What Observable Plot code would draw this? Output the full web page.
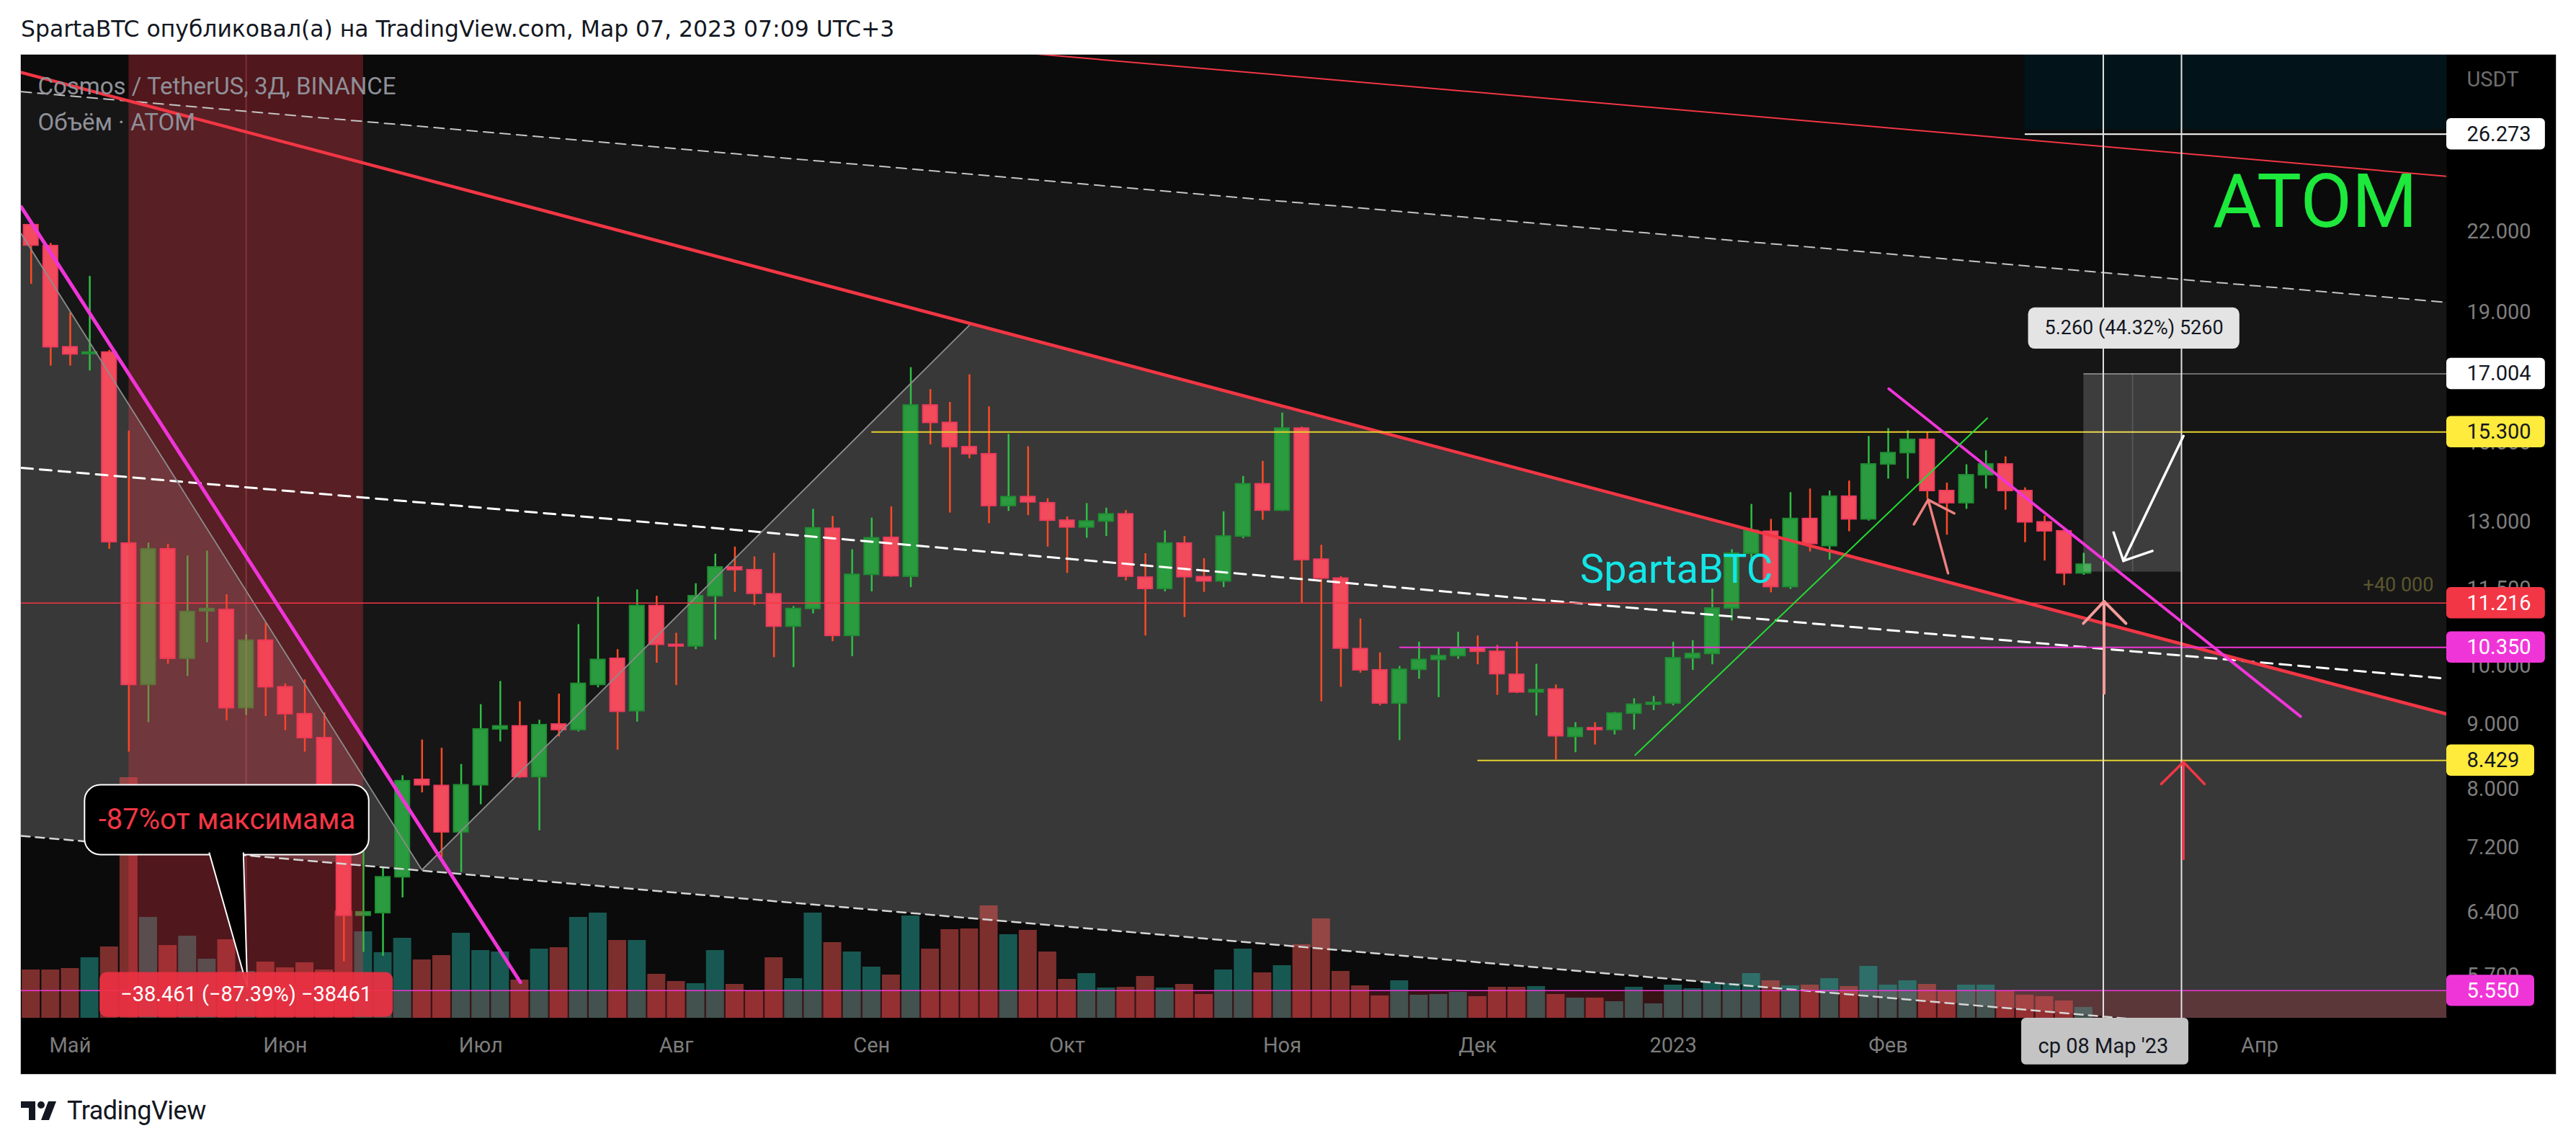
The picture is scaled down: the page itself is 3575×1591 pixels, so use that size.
<!DOCTYPE html>
<html><head><meta charset="utf-8">
<script src="https://cdn.jsdelivr.net/npm/d3@7"></script>
<script src="https://cdn.jsdelivr.net/npm/@observablehq/plot@0.6"></script>
<style>
html,body{margin:0;padding:0;background:#fff;}
#page{position:relative;width:3575px;height:1591px;background:#fff;overflow:hidden;}
#header{position:absolute;left:29px;top:24px;font-family:"DejaVu Sans";font-size:27px;color:#131722;white-space:nowrap;line-height:32px;}
#frame{position:absolute;left:28px;top:75px;width:3518px;height:1415px;border:1px solid #c9cbd1;}
.layer{position:absolute;left:29px;top:76px;width:3518px;height:1415px;}
#logo{position:absolute;left:29px;top:1524px;height:36px;display:flex;align-items:center;}
#logo span{font-family:Roboto;font-size:36px;color:#131722;margin-left:8px;letter-spacing:-0.5px;}
</style></head><body>
<div id="page">
  <div id="header">SpartaBTC опубликовал(а) на TradingView.com, Мар 07, 2023 07:09 UTC+3</div>
  <div id="frame"></div>
  <div class="layer" id="l1"></div>
  <div class="layer" id="l2"></div>
  <div class="layer" id="l3"></div>
  <div id="logo"><svg width="56" height="30" viewBox="0 0 56 30"><path d="M0 2h20v26h-9V11H0z" fill="#131722"/><circle cx="28" cy="7" r="5" fill="#131722"/><path d="M38 2h11l-10 26H28z" fill="#131722"/></svg><span>TradingView</span></div>
</div>
<script>
// ---------- DATA (3-day candles ATOM/USDT, Binance) ----------
const open = [22.28,21.45,17.85,17.63,17.68,12.50,9.67,12.37,10.14,11.05,
11.08,9.27,10.48,9.63,9.17,8.78,8.00,6.36,6.39,6.82,
8.14,8.05,7.40,8.06,8.92,8.97,8.18,9.00,8.91,9.67,
10.14,9.22,11.16,10.40,10.37,11.36,11.97,11.91,11.40,10.75,
11.10,12.84,10.57,11.81,12.63,11.77,16.06,15.56,14.89,14.70,
13.38,13.60,13.45,13.03,12.87,13.01,13.18,11.75,11.51,12.50,
11.76,11.67,12.66,13.92,13.27,15.40,12.14,11.73,10.32,9.93,
9.35,9.94,10.12,10.19,10.34,10.27,9.85,9.54,9.59,8.80,
8.94,8.91,9.18,9.33,9.35,10.15,10.23,11.11,12.27,12.77,
11.55,13.07,12.44,13.61,13.06,14.43,14.73,15.09,13.75,13.45,
14.15,14.43,13.75,12.99,12.78,11.84];
const high = [22.35,21.55,19.00,20.30,17.75,15.33,12.51,12.48,12.22,12.33,
11.39,10.59,10.82,9.69,9.76,9.19,8.05,7.20,6.95,8.20,
8.75,8.62,8.37,9.33,9.73,9.38,9.07,9.51,10.79,11.34,
10.31,11.49,11.36,10.62,11.62,12.26,12.42,12.20,12.28,11.15,
13.30,13.13,12.36,13.09,13.36,17.20,16.53,16.15,16.98,16.02,
15.24,14.90,13.56,13.12,13.44,13.33,13.27,12.27,12.79,12.66,
12.16,13.24,14.12,14.51,15.84,15.44,12.46,11.77,10.90,10.25,
10.00,10.45,10.34,10.64,10.57,10.39,10.45,10.04,9.67,9.03,
9.03,9.20,9.43,9.47,10.45,10.48,11.51,12.36,13.42,13.06,
13.71,13.80,13.75,14.00,15.18,15.40,15.34,15.30,13.95,14.42,
14.79,14.63,13.83,13.14,12.83,12.28];
const low = [20.01,17.25,17.25,17.10,12.37,8.56,9.03,10.04,9.82,10.44,
9.06,9.15,9.13,8.90,8.56,7.90,5.85,5.95,5.91,6.57,
7.95,7.06,6.88,7.78,8.72,8.16,7.42,8.80,8.88,9.62,
8.59,9.04,10.06,9.66,10.31,10.49,11.44,11.17,10.16,9.98,
11.00,10.46,10.18,11.45,11.76,11.54,14.95,13.21,14.58,12.96,
13.25,13.15,12.42,11.84,12.62,12.66,11.68,10.57,11.45,10.93,
11.44,11.54,12.61,13.04,13.25,11.22,9.38,9.63,9.88,9.31,
8.74,9.77,9.45,10.13,10.03,9.49,9.52,9.14,8.44,8.55,
8.67,8.83,8.91,9.23,9.31,9.93,10.03,10.86,12.14,11.43,
11.50,12.31,12.13,12.77,13.02,14.05,14.05,13.55,12.69,13.30,
13.80,13.28,12.52,12.11,11.58,11.80];
const close = [21.47,17.85,17.62,17.68,12.53,9.67,12.37,10.14,11.04,11.10,
9.27,10.48,9.63,9.17,8.78,8.00,6.36,6.40,6.82,8.12,
8.06,7.40,8.06,8.92,8.97,8.18,8.99,8.91,9.69,10.12,
9.21,11.16,10.40,10.37,11.36,11.97,11.91,11.41,10.75,11.10,
12.85,10.57,11.81,12.62,11.78,16.06,15.56,14.89,14.70,13.38,
13.60,13.47,13.03,12.87,13.01,13.18,11.77,11.51,12.50,11.76,
11.67,12.66,13.92,13.27,15.40,12.13,11.73,10.33,9.93,9.35,
9.94,10.12,10.19,10.34,10.27,9.86,9.54,9.58,8.81,8.94,
8.91,9.18,9.33,9.36,10.15,10.23,11.11,12.27,12.79,11.55,
13.07,12.49,13.61,13.06,14.43,14.73,15.09,13.75,13.45,14.15,
14.43,13.75,12.99,12.78,11.84,12.03];
// volume, millions ATOM
const volume = [6.7,6.7,6.9,8.4,9.9,33.4,14.0,10.1,11.4,8.2,
10.9,6.5,7.8,7.0,7.7,6.7,14.9,12.0,9.1,11.1,
8.1,8.7,11.8,9.4,9.2,5.3,9.6,9.8,14.0,14.6,
10.8,10.8,6.1,5.1,4.8,9.4,4.7,3.8,8.4,5.5,
14.6,10.5,9.2,7.1,6.0,14.2,9.6,12.3,12.4,15.6,
11.6,12.2,9.2,5.4,6.2,4.2,4.3,5.8,4.2,4.7,
3.3,6.7,9.6,6.3,7.3,10.2,13.8,6.5,4.5,3.1,
5.2,3.2,3.3,3.6,3.0,4.3,4.3,4.4,3.3,2.8,
2.8,2.3,4.3,2.0,4.6,4.1,4.9,4.8,6.2,5.2,
4.5,4.6,5.5,4.4,7.2,4.6,5.2,4.7,3.8,4.6,
4.6,3.8,3.2,3.0,2.4,1.5];

// time axis (bar index of first bar of each month)
const xTickBars   = [2,13,23,33,43,53,64,74,84,95,104,114];
const xTickLabels = ["Май","Июн","Июл","Авг","Сен","Окт","Ноя","Дек","2023","Фев","Мар","Апр"];
const crosshairBar = 106, crosshairLabel = "ср 08 Мар '23";
// price axis
const yTicks = [22,19,15,13,11.5,10,9,8,7.2,6.4,5.7];
const priceLabelValues = [26.273,17.004,15.3,11.216,10.35,8.429,5.55];

// drawings: anchors as [bar index, price]
const trendA   = [[-0.505,29.39],[123.565,9.17]];
const trendB   = [[46.34,30.87],[123.565,24.34]];
const chanTop  = [[-0.505,28.38],[123.565,19.36]];
const chanMid  = [[-0.505,14.34],[123.565,9.779]];
const chanBot  = [[-0.505,7.351],[123.565,5.017]];
const vPath    = [[-0.505,21.93],[19.99,6.91],[48.0,18.58]];
const shadeZone = [[-0.505,7.351,21.93],[19.99,6.91,6.91],[48.0,6.33,18.58],[107.16,5.28,10.69],[123.565,5.28,9.17]];
const magentaLeft  = [[-0.505,23.02],[25.03,5.635]];
const magentaRight = [[95.03,16.55],[116.09,9.131]];
const greenLine    = [[82.05,8.511],[100.07,15.69]];
const levels = [ // price, starting bar
  {p:11.216, from:-0.505},{p:10.35, from:70},{p:15.3, from:43},{p:8.429, from:74},{p:5.55, from:-0.505},
  {p:26.273, from:102},{p:17.004, from:105}];
const rangeDrop = {from:5, to:17, top:44.011, bottom:5.55, text:"−38.461 (−87.39%) −38461"};
const rangeUp   = {from:105, to:110, bottom:11.868, top:17.004, text:"5.260 (44.32%) 5260"};
const vLines = [106,110];
const arrowWhite = {shaft:[[110.1,15.19],[107.03,12.11]], head:[[106.53,12.75],[107.03,12.11],[108.51,12.33]]};
const arrowPink  = {shaft:[[106.04,9.523],[106.04,11.25]], head:[[104.98,10.81],[106.04,11.25],[107.16,10.81]]};
const arrowRed   = {shaft:[[110.1,7.05],[110.1,8.405]], head:[[108.96,8.076],[110.1,8.405],[111.18,8.076]]};
const arrowSalmon= {shaft:[[98.06,11.84],[97.04,13.53]], head:[[96.31,12.94],[97.04,13.53],[98.38,13.20]]};
const calloutText = "-87%от максимама";

// ---------- LAYOUT ----------
const W = 3518, H = 1415, MR = 152, MB = 78;
const xMin = -0.505, xMax = 123.565;
const xDomain = [xMin, xMax], yDomain = [5.28, 30.33];
const base = {width: W, height: H, marginLeft: 0, marginRight: MR, marginTop: 0, marginBottom: MB,
  color: {type: "identity"},
  style: {background: "transparent", color: "#7d7d7d", fontFamily: "Roboto", overflow: "visible"}};
const k = 1.0288; // half label height factor on log scale

const candles = open.map((o, i) => ({i, o, h: high[i], l: low[i], c: close[i], v: volume[i], up: close[i] >= o}));
const UP = "#2b9b3f", UPB = "#1f8f33", UPW = "#2fbf45", DN = "#f24b5b", DNB = "#ee3b5e", DNW = "#ff4a24";
const MAG = "#f035d8", YEL = "#e6d02e", RED = "#f23645";
const lvlStyle = {11.216:[RED,1.5], 10.35:[MAG,2], 15.3:[YEL,2], 8.429:[YEL,2], 5.55:[MAG,1.5], 26.273:["#ffffff",2], 17.004:["#8a8a8a",1.5]};
const labStyle = {26.273:["#ffffff","#131722",128.61], 17.004:["#ffffff","#131722",128.61], 15.3:["#ffeb3b","#131722",128.61],
  11.216:[RED,"#ffffff",128.61], 10.35:[MAG,"#ffffff",128.61], 8.429:["#ffeb3b","#131722",128.06], 5.55:[MAG,"#ffffff",128.06]};

// ---------- LAYER 1: backgrounds ----------
const p1 = Plot.plot({...base,
  style: {...base.style, background: "#000"},
  x: {type: "linear", domain: xDomain, axis: null},
  y: {type: "log", domain: yDomain, axis: null},
  marks: [
    Plot.frame({fill: "#0b0b0b", stroke: null}),
    Plot.areaY([[xMin, chanBot[0][1], chanTop[0][1]], [xMax, chanBot[1][1], chanTop[1][1]]],
      {x: d => d[0], y1: d => d[1], y2: d => d[2], fill: "#161616", clip: true}),
    Plot.areaY(shadeZone, {x: d => d[0], y1: d => d[1], y2: d => d[2], fill: "#383838", clip: true}),
    Plot.rect([0], {x1: 102, x2: xMax, y1: 26.48, y2: 40, fill: "#02141a", clip: true})
  ]});
document.getElementById("l1").appendChild(p1);

// ---------- LAYER 2: volume ----------
const p2 = Plot.plot({...base,
  x: {type: "linear", domain: xDomain, axis: null},
  y: {type: "linear", domain: [0, 133.7], axis: null},
  marks: [
    Plot.rect(candles, {x1: d => d.i - 0.46, x2: d => d.i + 0.46, y1: 0, y2: "v",
      fill: d => d.up ? "rgba(38,166,154,0.5)" : "rgba(239,83,80,0.5)"})
  ]});
document.getElementById("l2").appendChild(p2);

// ---------- LAYER 3: candles, drawings, axes ----------
const seg = (pts, o) => Plot.line(pts, {x: d => d[0], y: d => d[1], clip: true, ...o});
const arrow = (a, col, w) => [seg(a.shaft, {stroke: col, strokeWidth: w, strokeLinecap: "round"}),
  seg(a.head, {stroke: col, strokeWidth: w, strokeLinecap: "round", strokeLinejoin: "round"})];

const p3 = Plot.plot({...base,
  x: {type: "linear", domain: xDomain},
  y: {type: "log", domain: yDomain},
  marks: [
    Plot.axisX({ticks: xTickBars, tickFormat: d => xTickLabels[xTickBars.indexOf(d)], tickSize: 0, tickPadding: 27,
      fontSize: 29, color: "#7d7d7d", label: null}),
    // candles
    Plot.ruleX(candles, {x: "i", y1: "l", y2: "h", stroke: d => d.up ? UPW : DNW, strokeWidth: 2.5, clip: true}),
    Plot.rect(candles, {x1: d => d.i - 0.37, x2: d => d.i + 0.37, y1: "o", y2: "c",
      fill: d => d.up ? UP : DN, stroke: d => d.up ? UPB : DNB, strokeWidth: 2, clip: true}),
    // drop range box
    Plot.rect([rangeDrop], {x1: "from", x2: "to", y1: "bottom", y2: "top", fill: "rgba(242,54,69,0.3)", clip: true}),
    Plot.ruleX([rangeDrop], {x: d => (d.from + d.to) / 2, y1: "bottom", y2: "top", stroke: "rgba(255,120,130,0.25)", strokeWidth: 2, clip: true}),
    Plot.rect([rangeDrop], {x1: "from", x2: xMax, y1: 4.5, y2: "bottom", fill: "rgba(242,54,69,0.2)", clip: true}),
    // channel
    seg(chanTop, {stroke: "#c4c4c4", strokeWidth: 2, strokeDasharray: "14,9"}),
    seg(chanMid, {stroke: "#ffffff", strokeWidth: 3, strokeDasharray: "16,10"}),
    seg(chanBot, {stroke: "#d6d6d6", strokeWidth: 2.5, strokeDasharray: "12,8"}),
    seg(vPath, {stroke: "#8c8c8c", strokeWidth: 1.8}),
    seg(trendB, {stroke: RED, strokeWidth: 2}),
    seg(trendA, {stroke: RED, strokeWidth: 4.5}),
    // horizontal levels
    Plot.ruleY(levels, {y: "p", x1: "from", x2: xMax, stroke: d => lvlStyle[d.p][0], strokeWidth: d => lvlStyle[d.p][1], clip: true}),
    // up-range measure
    Plot.rect([rangeUp], {x1: "from", x2: "to", y1: "bottom", y2: "top", fill: "rgba(255,255,255,0.17)"}),
    Plot.ruleX([rangeUp], {x: d => (d.from + d.to) / 2, y1: "bottom", y2: "top", stroke: "rgba(255,255,255,0.12)", strokeWidth: 2}),
    Plot.ruleX(vLines, {stroke: "#e2e2e2", strokeWidth: 2}),
    seg(magentaLeft, {stroke: MAG, strokeWidth: 5, strokeLinecap: "round"}),
    seg(magentaRight, {stroke: MAG, strokeWidth: 4, strokeLinecap: "round"}),
    seg(greenLine, {stroke: "#22dd33", strokeWidth: 2}),
    ...arrow(arrowWhite, "#ffffff", 3.5),
    ...arrow(arrowPink, "#f49a9a", 4),
    ...arrow(arrowRed, "#f23645", 3.5),
    ...arrow(arrowSalmon, "#f08080", 3.5),
    // texts
    Plot.text(["SpartaBTC"], {x: 84.16, y: 11.91, text: d => d, fontSize: 56, fill: "#14e6e6", fontFamily: "Roboto"}),
    Plot.text(["ATOM"], {x: 116.83, y: 23.2, text: d => d, fontSize: 104, fill: "#1de83c", fontFamily: "Roboto"}),
    Plot.text(["+40 000"], {x: 122.9, y: 11.59, text: d => d, fontSize: 27, fill: "#5a5630", textAnchor: "end"}),
    Plot.text(["Cosmos / TetherUS, 3Д, BINANCE"], {frameAnchor: "top-left", dx: 23, dy: 44, text: d => d, fontSize: 33, fill: "#8f9098", textAnchor: "start", lineAnchor: "middle"}),
    Plot.text(["Объём · ATOM"], {frameAnchor: "top-left", dx: 23, dy: 94, text: d => d, fontSize: 33, fill: "#8f9098", textAnchor: "start", lineAnchor: "middle"}),
    // callout
    Plot.rect([0], {x1: 2.75, x2: 17.29, y1: 7.10, y2: 8.06, fill: "#000", stroke: "#ffffff", strokeWidth: 2, rx: 22}),
    Plot.line([[9.115, 7.125], [11.06, 5.586], [10.86, 7.125]], {x: d => d[0], y: d => d[1], fill: "#000", stroke: "#ffffff", strokeWidth: 2}),
    Plot.text([calloutText], {x: 10.02, y: 7.565, text: d => d, fontSize: 40, fill: RED}),
    // range labels
    Plot.rect([0], {x1: 3.52, x2: 18.52, y1: 5.289, y2: 5.737, fill: "rgba(235,48,66,0.93)", rx: 10}),
    Plot.text([rangeDrop], {x: d => (d.from + d.to) / 2, y: 5.513, text: "text", fontSize: 29, fill: "#ffffff"}),
    Plot.rect([0], {x1: 102.17, x2: 112.98, y1: 17.79, y2: 19.17, fill: "#e4e4e4", rx: 9}),
    Plot.text([rangeUp], {x: 107.57, y: 18.47, text: "text", fontSize: 27, fill: "#131722"}),
    // price axis
    Plot.axisY({anchor: "right", ticks: yTicks, tickFormat: d => d.toFixed(3), tickSize: 0, tickPadding: 28,
      fontSize: 29, color: "#7d7d7d", label: null}),
    Plot.text(["USDT"], {x: xMax, y: 29.0, dx: 28, text: d => d, fontSize: 29, fill: "#6e6e6e", textAnchor: "start"}),
    Plot.rect(priceLabelValues, {x1: xMax, x2: d => labStyle[d][2], y1: d => d / k, y2: d => d * k, fill: d => labStyle[d][0], rx: 6}),
    Plot.text(priceLabelValues, {x: xMax, y: d => d, dx: 28, text: d => d.toFixed(3), fontSize: 29, fill: d => labStyle[d][1], textAnchor: "start"}),
    // crosshair date label
    Plot.rect([crosshairBar], {x1: 101.82, x2: 110.37, y1: 4.851, y2: 5.28, fill: "#c4c4c4", rx: 6}),
    Plot.text([crosshairLabel], {x: crosshairBar, y: 5.017, text: d => d, fontSize: 29, fill: "#131722"})
  ]});
document.getElementById("l3").appendChild(p3);

// fit header width to the reference
const hdr = document.getElementById("header");
const hw = hdr.getBoundingClientRect().width;
hdr.style.fontSize = (27 * 1213 / hw) + "px";
</script>
</body></html>
